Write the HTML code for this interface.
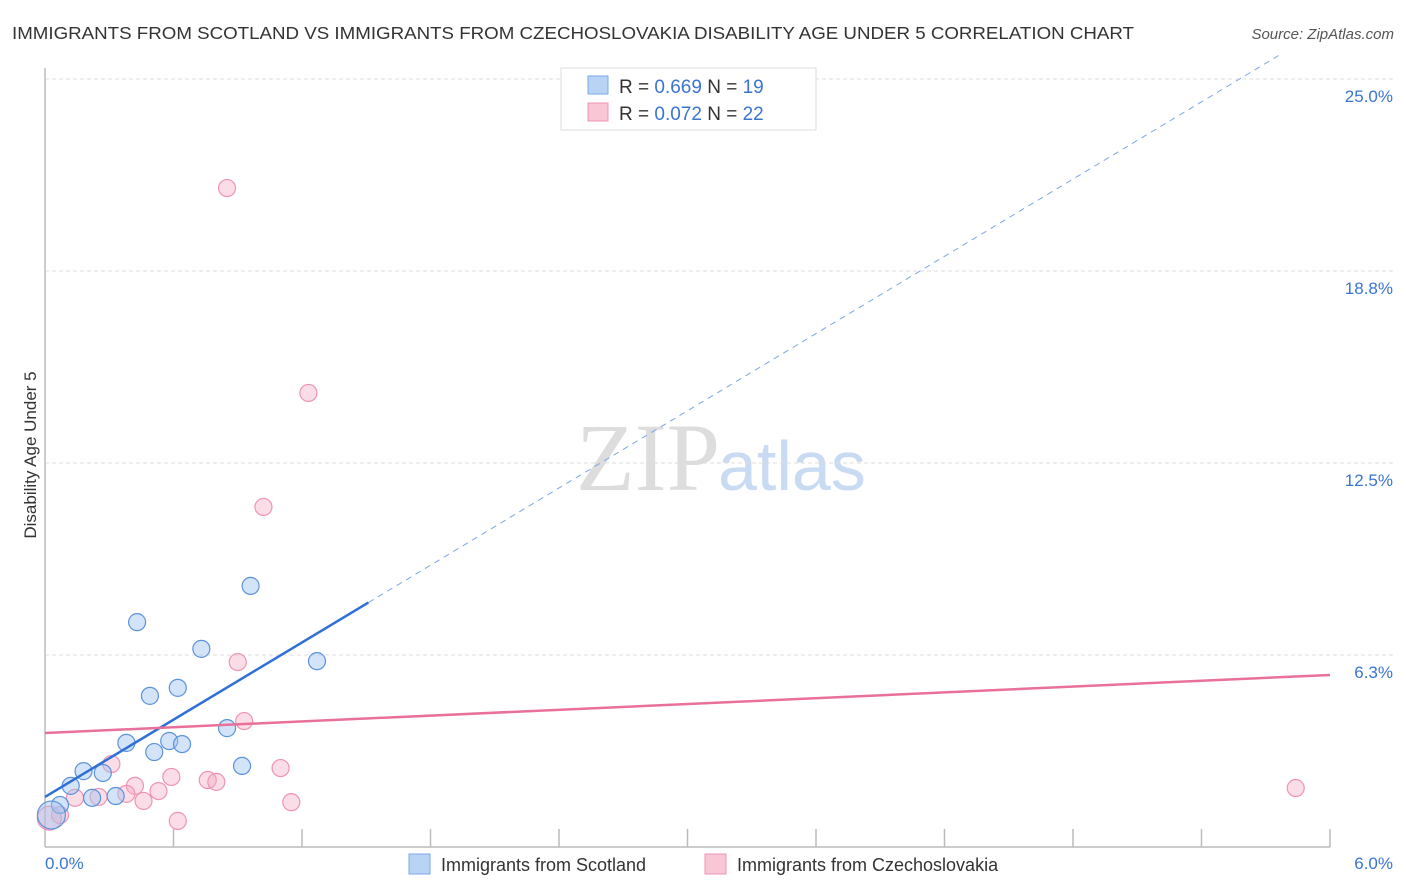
<!DOCTYPE html>
<html><head><meta charset="utf-8"><style>
body{margin:0;background:#fff;font-family:"Liberation Sans",sans-serif;}
svg{display:block}
</style></head><body>
<svg id="c" width="1406" height="892">
<text x="12" y="39" font-size="17.5" fill="#333" textLength="1122" lengthAdjust="spacingAndGlyphs">IMMIGRANTS FROM SCOTLAND VS IMMIGRANTS FROM CZECHOSLOVAKIA DISABILITY AGE UNDER 5 CORRELATION CHART</text>
<text x="1394" y="39" font-size="15" fill="#555" font-style="italic" text-anchor="end">Source: ZipAtlas.com</text>
<text x="720" y="490" font-size="96" fill="#ddd" text-anchor="end" font-family="Liberation Serif">ZIP</text>
<text x="718" y="490" font-size="70" fill="#c9daf3">atlas</text>
<g id="grid"></g>
<line x1="45" y1="68" x2="45" y2="847" stroke="#bbb" stroke-width="1.5"/>
<line x1="45" y1="847" x2="1330" y2="847" stroke="#bbb" stroke-width="1.5"/>
<g id="ticks"></g>
<text x="36" y="455" font-size="17" fill="#333" text-anchor="middle" transform="rotate(-90 36 455)">Disability Age Under 5</text>
<text x="45" y="869" font-size="17" fill="#3a75d0">0.0%</text>
<text x="1393" y="869" font-size="17" fill="#3a75d0" text-anchor="end">6.0%</text>
<g id="pts"></g>
<g id="lines"></g>
<g>
<rect x="561" y="68" width="255" height="62" fill="#fff" stroke="#ddd"/>
<rect x="588" y="76" width="20" height="18" fill="#b9d3f5" stroke="#7aa8e8"/>
<rect x="588" y="103" width="20" height="18" fill="#f9c6d6" stroke="#ee94b3"/>
<text x="619" y="93" font-size="19" fill="#333">R = <tspan fill="#3a75d0">0.669</tspan>   N = <tspan fill="#3a75d0">19</tspan></text>
<text x="619" y="120" font-size="19" fill="#333">R = <tspan fill="#3a75d0">0.072</tspan>   N = <tspan fill="#3a75d0">22</tspan></text>
</g>
<g>
<rect x="409" y="854" width="21" height="20" fill="#b9d3f5" stroke="#7aa8e8"/>
<text x="441" y="871" font-size="18" fill="#333">Immigrants from Scotland</text>
<rect x="705" y="854" width="21" height="20" fill="#f9c6d6" stroke="#ee94b3"/>
<text x="737" y="871" font-size="18" fill="#333">Immigrants from Czechoslovakia</text>
</g>
</svg>
<script>
const yTicks=[6.25,12.5,18.75,25];
const yTickLabels=["6.3%","12.5%","18.8%","25.0%"];
const xTicks=[0,0.6,1.2,1.8,2.4,3.0,3.6,4.2,4.8,5.4,6.0];
const scotX=[0.43,0.96,0.73,1.27,0.49,0.62,0.85,0.38,0.51,0.58,0.64,0.92,0.18,0.27,0.12,0.22,0.33,0.07,0.03];
const scotY=[7.32,8.50,6.45,6.05,4.92,5.18,3.87,3.39,3.09,3.45,3.35,2.64,2.47,2.41,1.99,1.60,1.66,1.37,1.04];
const czX=[0.85,1.23,1.02,0.90,0.93,0.31,0.59,1.10,0.42,0.53,0.76,0.80,0.46,1.15,0.62,0.38,0.25,0.14,0.07,5.84,0.02];
const czY=[21.45,14.78,11.07,6.02,4.10,2.70,2.28,2.57,1.99,1.82,2.18,2.12,1.50,1.46,0.85,1.73,1.63,1.60,1.04,1.92,0.94];
const scotLine=[1.63,4.19]; // intercept, slope
const czLine=[3.71,0.315];
const NS="http://www.w3.org/2000/svg";
const X=v=>45+v/6*1285, Y=v=>847-v/25*768;
function mk(tag,attrs,parent){const e=document.createElementNS(NS,tag);for(const k in attrs)e.setAttribute(k,attrs[k]);document.getElementById(parent).appendChild(e);return e;}
yTicks.forEach((t,i)=>{
 const g=mk('line',{x1:45,x2:1393,y1:Y(t),y2:Y(t),stroke:'#ddd','stroke-dasharray':'4,3'},'grid');
 
 
 const l=mk('text',{x:1393,y:Y(t)+23,'font-size':17,fill:'#3a75d0','text-anchor':'end'},'grid');
 l.textContent=yTickLabels[i];
 
 
});
xTicks.slice(1).forEach(t=>{
 const e=mk('line',{x1:X(t),x2:X(t),y1:829,y2:847,stroke:'#bbb','stroke-width':1.5},'ticks');
 
 
});
czX.forEach((x,i)=>{
 const e=mk('circle',{cx:X(x),cy:Y(czY[i]),r:(i==czX.length-1?12:8.5),fill:'rgba(246,170,195,0.4)',stroke:'#ee94b3','stroke-width':1.2},'pts');
 
 
});
scotX.forEach((x,i)=>{
 const e=mk('circle',{cx:X(x),cy:Y(scotY[i]),r:(i==scotX.length-1?14:8.5),fill:'rgba(160,195,240,0.45)',stroke:'#5b92dc','stroke-width':1.2},'pts');
 
 
});
const sEnd=1.51, dEnd=(25.8-scotLine[0])/scotLine[1];
let e=mk('line',{x1:X(0),y1:Y(scotLine[0]),x2:X(sEnd),y2:Y(scotLine[0]+scotLine[1]*sEnd),stroke:'#2f6fd6','stroke-width':2.5},'lines');


e=mk('line',{x1:X(sEnd),y1:Y(scotLine[0]+scotLine[1]*sEnd),x2:X(dEnd),y2:Y(25.8),stroke:'#7aa8e8','stroke-width':1,'stroke-dasharray':'6,5'},'lines');


e=mk('line',{x1:X(0),y1:Y(czLine[0]),x2:X(6),y2:Y(czLine[0]+czLine[1]*6),stroke:'#e8709a','stroke-width':2.5},'lines');


</script>
</body></html>
